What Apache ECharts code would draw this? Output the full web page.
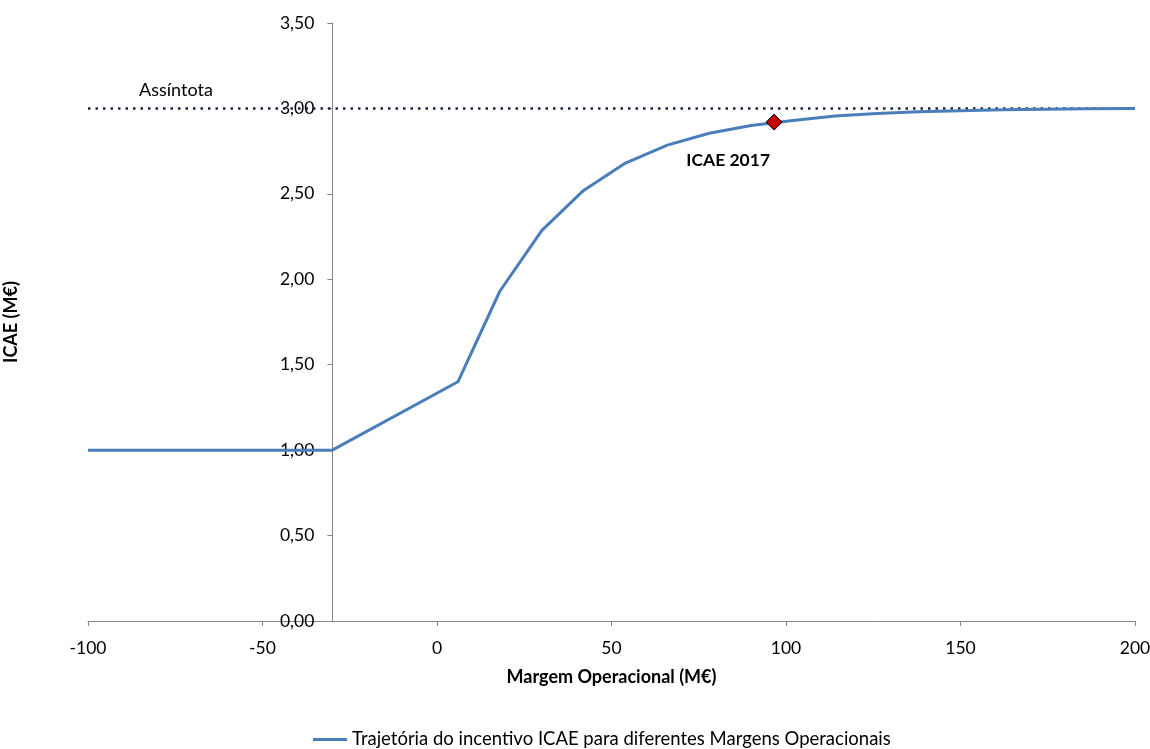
<!DOCTYPE html>
<html>
<head>
<meta charset="utf-8">
<script src="https://cdn.jsdelivr.net/npm/echarts@6/dist/echarts.min.js"></script>
<style>
  html, body { margin: 0; padding: 0; background: #fff; }
  #chart { width: 1150px; height: 749px; }
</style>
</head>
<body>
<div id="chart"></div>
<script>
// dados
var margens = [-100, -30, 6, 18, 30, 42, 54, 66, 78, 90, 102, 114, 126, 138, 150, 162, 174, 186, 200];
var icae = [1.00, 1.00, 1.40, 1.93, 2.285, 2.52, 2.68, 2.785, 2.855, 2.90, 2.93, 2.955, 2.97, 2.98, 2.987, 2.992, 2.995, 2.998, 3.00];
var assintota = 3.0;
var icae2017 = [96.6, 2.92];
var eixoX = { min: -100, max: 200, interval: 50 };
var eixoY = { min: 0, max: 3.5, interval: 0.5 };
var cruzamentoY = -30; // onde o eixo Y cruza o eixo X

var nomeSerie = 'Trajetória do incentivo ICAE para diferentes Margens Operacionais';
var fonte = 'Lato, "Open Sans", sans-serif';

var gradeEsq = 88, gradeDir = 15, largura = 1150;
var larguraGrade = largura - gradeEsq - gradeDir;
// deslocamento do eixo Y para dentro da grelha
var deslocY = (cruzamentoY - eixoX.min) / (eixoX.max - eixoX.min) * larguraGrade;

var linhaPrincipal = [];
for (var i = 0; i < margens.length; i++) {
  linhaPrincipal.push([margens[i], icae[i]]);
}

var chart = echarts.init(document.getElementById('chart'));
chart.setOption({
  animation: false,
  textStyle: { fontFamily: fonte },
  grid: { left: gradeEsq, right: gradeDir, top: 23, bottom: 128, outerBoundsMode: 'none', containLabel: false },
  legend: {
    top: 730,
    left: 313,
    padding: 0,
    icon: 'rect',
    itemWidth: 34,
    itemHeight: 3,
    data: [nomeSerie],
    textStyle: { fontSize: 18.5, color: '#000', fontFamily: fonte }
  },
  xAxis: {
    type: 'value',
    min: eixoX.min, max: eixoX.max, interval: eixoX.interval,
    name: 'Margem Operacional (M€)',
    nameLocation: 'middle',
    nameGap: 47,
    nameTextStyle: { fontSize: 18, fontWeight: 'bold', color: '#000', fontFamily: fonte },
    axisLine: { onZero: false, lineStyle: { color: '#868686', width: 1 } },
    axisTick: { show: true, length: 5, lineStyle: { color: '#868686' } },
    axisLabel: { fontSize: 17.5, color: '#000', margin: 18, fontFamily: fonte },
    splitLine: { show: false }
  },
  yAxis: {
    type: 'value',
    min: eixoY.min, max: eixoY.max, interval: eixoY.interval,
    offset: -deslocY,
    name: 'ICAE (M€)',
    nameLocation: 'middle',
    nameGap: deslocY + gradeEsq - 20,
    nameRotate: 90,
    nameTextStyle: { fontSize: 18, fontWeight: 'bold', color: '#000', fontFamily: fonte },
    axisLine: { show: true, onZero: false, lineStyle: { color: '#868686', width: 1 } },
    axisTick: { show: true, length: 5, lineStyle: { color: '#868686' } },
    axisLabel: {
      fontSize: 17.5, color: '#000', margin: 18, fontFamily: fonte,
      formatter: function (v) { return v.toFixed(2).replace('.', ','); }
    },
    splitLine: { show: false }
  },
  series: [
    {
      name: 'Assíntota',
      type: 'line',
      data: [[eixoX.min, assintota], [eixoX.max, assintota]],
      symbol: 'none',
      z: 3,
      lineStyle: { color: '#16243f', width: 2.5, type: [2.5, 5] },
      markPoint: {
        symbol: 'circle', symbolSize: 0,
        data: [{ coord: [-74.8, assintota] }],
        label: {
          show: true, position: 'top', distance: 9,
          formatter: 'Assíntota', color: '#000', fontSize: 18, fontFamily: fonte
        }
      }
    },
    {
      name: nomeSerie,
      type: 'line',
      data: linhaPrincipal,
      symbol: 'none',
      z: 4,
      lineStyle: { color: '#4a7ebb', width: 3 },
      itemStyle: { color: '#4a7ebb' }
    },
    {
      name: 'ICAE 2017',
      type: 'scatter',
      data: [icae2017],
      symbol: 'diamond',
      symbolSize: [16, 16],
      z: 5,
      itemStyle: { color: '#c00000', borderColor: '#000', borderWidth: 1, opacity: 1 },
      label: {
        show: true, position: 'bottom', distance: 21, offset: [-46, 0],
        formatter: 'ICAE 2017', color: '#000', fontSize: 17.5, fontWeight: 'bold', fontFamily: fonte
      }
    }
  ]
});
</script>
</body>
</html>
